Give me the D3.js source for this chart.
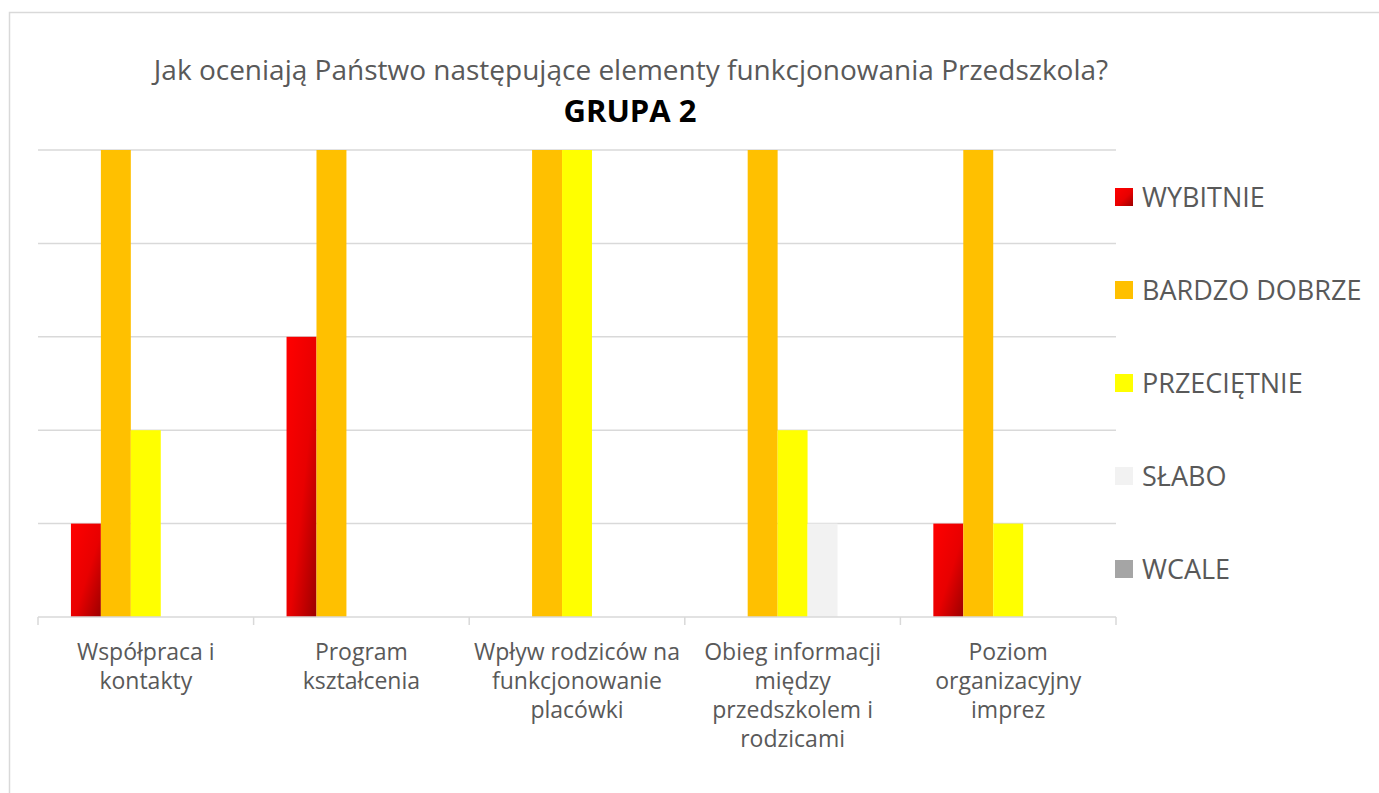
<!DOCTYPE html>
<html>
<head>
<meta charset="utf-8">
<script src="https://cdn.jsdelivr.net/npm/d3@7"></script>
<style>
  body { margin: 0; background: #fff; }
  text { font-family: "Open Sans", sans-serif; fill: #595959; }
</style>
</head>
<body>
<svg width="1379" height="793"></svg>
<script>
const categories = [
  ["Współpraca i", "kontakty"],
  ["Program", "kształcenia"],
  ["Wpływ rodziców na", "funkcjonowanie", "placówki"],
  ["Obieg informacji", "między", "przedszkolem i", "rodzicami"],
  ["Poziom", "organizacyjny", "imprez"]
];
const seriesNames = ["WYBITNIE", "BARDZO DOBRZE", "PRZECIĘTNIE", "SŁABO", "WCALE"];
const wybitnie     = [1, 3, 0, 0, 1];
const bardzoDobrze = [5, 5, 5, 5, 5];
const przecietnie  = [2, 0, 5, 2, 1];
const slabo        = [0, 0, 0, 1, 0];
const wcale        = [0, 0, 0, 0, 0];
const seriesValues = [wybitnie, bardzoDobrze, przecietnie, slabo, wcale];
const colors = ["url(#redGrad)", "#ffc000", "#ffff00", "#f2f2f2", "#a5a5a5"];

const svg = d3.select("svg");

// chart frame
svg.append("rect")
   .attr("x", 9.5).attr("y", 12.5)
   .attr("width", 1400).attr("height", 800)
   .attr("fill", "none").attr("stroke", "#d9d9d9").attr("stroke-width", 1.5);

const defs = svg.append("defs");
const grad = defs.append("linearGradient")
   .attr("id", "redGrad")
   .attr("x1", "0").attr("y1", "0").attr("x2", "1").attr("y2", "1");
grad.append("stop").attr("offset", "0%").attr("stop-color", "#ff0000");
grad.append("stop").attr("offset", "55%").attr("stop-color", "#e80000");
grad.append("stop").attr("offset", "100%").attr("stop-color", "#9c0000");

const plotLeft = 38, plotRight = 1116, plotTop = 150, plotBottom = 617;

const x0 = d3.scaleBand()
   .domain(d3.range(categories.length))
   .range([plotLeft, plotRight])
   .paddingInner(0)
   .paddingOuter(0);

const x1 = d3.scaleBand()
   .domain(d3.range(seriesNames.length))
   .range([0, x0.bandwidth()])
   .paddingOuter(1.1)
   .paddingInner(0);

const y = d3.scaleLinear().domain([0, 5]).range([plotBottom, plotTop]);

// gridlines
svg.append("g")
   .selectAll("line")
   .data(y.ticks(5).filter(d => d > 0))
   .enter()
   .append("line")
   .attr("x1", plotLeft).attr("x2", plotRight)
   .attr("y1", d => y(d)).attr("y2", d => y(d))
   .attr("stroke", "#d9d9d9").attr("stroke-width", 1.5);

// bars
const groups = svg.append("g")
   .selectAll("g")
   .data(categories)
   .enter()
   .append("g")
   .attr("transform", (d, i) => `translate(${x0(i)},0)`);

groups.selectAll("rect")
   .data((d, i) => seriesValues.map((s, j) => ({ j: j, v: s[i] })))
   .enter()
   .append("rect")
   .attr("x", d => x1(d.j))
   .attr("width", x1.bandwidth())
   .attr("y", d => y(d.v))
   .attr("height", d => plotBottom - y(d.v))
   .attr("fill", d => colors[d.j]);

// x axis
svg.append("line")
   .attr("x1", plotLeft).attr("x2", plotRight)
   .attr("y1", plotBottom).attr("y2", plotBottom)
   .attr("stroke", "#d9d9d9").attr("stroke-width", 1.5);

svg.append("g")
   .selectAll("line")
   .data(d3.range(categories.length + 1))
   .enter()
   .append("line")
   .attr("x1", i => plotLeft + i * x0.step()).attr("x2", i => plotLeft + i * x0.step())
   .attr("y1", plotBottom).attr("y2", plotBottom + 8)
   .attr("stroke", "#d9d9d9").attr("stroke-width", 1.5);

const labels = svg.append("g")
   .selectAll("text")
   .data(categories)
   .enter()
   .append("text")
   .attr("text-anchor", "middle")
   .style("font-size", "23px")
   .attr("x", (d, i) => x0(i) + x0.bandwidth() / 2)
   .attr("y", 660);

labels.selectAll("tspan")
   .data(d => d)
   .enter()
   .append("tspan")
   .attr("x", function() { return this.parentNode.getAttribute("x"); })
   .attr("dy", (d, i) => i === 0 ? 0 : 29)
   .text(d => d);

// title
svg.append("text")
   .attr("x", 631).attr("y", 80)
   .attr("text-anchor", "middle")
   .style("font-size", "28px")
   .text("Jak oceniają Państwo następujące elementy funkcjonowania Przedszkola?");

svg.append("text")
   .attr("x", 630).attr("y", 122)
   .attr("text-anchor", "middle")
   .style("font-size", "31px")
   .style("font-weight", "bold")
   .style("fill", "#000")
   .text("GRUPA 2");

// legend
const legend = svg.append("g")
   .selectAll("g")
   .data(seriesNames)
   .enter()
   .append("g")
   .attr("transform", (d, i) => `translate(1115, ${197 + i * 93})`);

legend.append("rect")
   .attr("x", 0).attr("y", -9)
   .attr("width", 18).attr("height", 18)
   .attr("fill", (d, i) => colors[i]);

legend.append("text")
   .attr("x", 27).attr("y", 10)
   .style("font-size", "27px")
   .text(d => d);
</script>
</body>
</html>
